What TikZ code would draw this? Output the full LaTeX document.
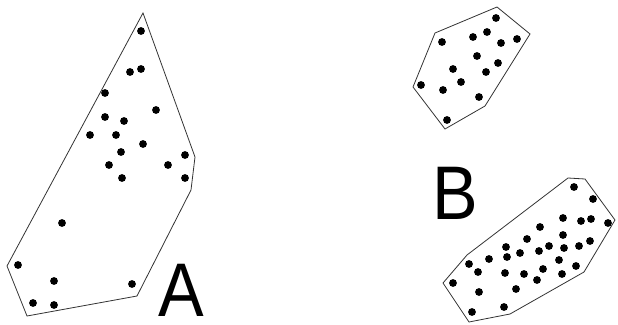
\documentclass[tikz,border=0pt]{standalone}
\usepackage{fontspec}
\setmainfont{Liberation Sans}
\usetikzlibrary{positioning}

\tikzset{
  hull/.style={draw=black!80, line width=0.8pt, line join=miter},
  pt/.style={fill=black},
  clusterlabel/.style={inner sep=0pt, xscale=0.9, font=\fontsize{76}{78}\selectfont}
}

\begin{document}
\begin{tikzpicture}[x=1pt, y=-1pt]
    \def\r{3.9}     % dot radius
    \useasboundingbox (0,0) rectangle (618,324);

    % Cluster A: hull
    \draw[hull] (143,13) -- (195,157) -- (191,190) -- (137,296) -- (27,316) -- (7,266) -- cycle;
    % Cluster A: points
    \foreach \x/\y in {141/31, 130/72, 141/69, 105/93, 156/110, 105/117, 124/121,
                       90/135, 116/135, 143/144, 121/152, 185/155, 109/165, 168/165,
                       122/178, 185/178, 62/223, 18/265, 54/281, 132/284, 33/303, 54/305}
        \fill[pt] (\x,\y) circle (\r);

    % Cluster B, upper part: hull
    \draw[hull] (435,33) -- (497,7) -- (530,34) -- (485,106) -- (445,129) -- (413,87) -- cycle;
    % Cluster B, upper part: points
    \foreach \x/\y in {496/18, 473/37, 487/32, 442/42, 501/43, 517/39, 477/56, 453/69,
                       498/63, 486/72, 461/82, 421/85, 443/90, 479/97, 447/120}
        \fill[pt] (\x,\y) circle (\r);

    % Cluster B, lower part: hull
    \draw[hull] (568,178) -- (585,179) -- (615,220) -- (584,272) -- (510,314)
                -- (469,322) -- (443,283) -- (467,255) -- cycle;
    % Cluster B, lower part: points
    \foreach \x/\y in {574/187, 593/199, 563/218, 581/221, 591/219, 608/223, 540/227,
                       563/235, 527/239, 590/241, 506/247, 549/246, 564/248, 579/246,
                       520/253, 539/251, 507/257, 489/259, 469/264, 559/260, 478/272,
                       543/269, 576/266, 505/273, 524/274, 562/274, 537/280, 453/283,
                       479/292, 516/289, 472/312, 504/307}
        \fill[pt] (\x,\y) circle (\r);

    % Labels
    \node[clusterlabel] (labelA) at (181.5,290) {A};
    \node[clusterlabel] (labelB) at (455.5,193.5) {B};
\end{tikzpicture}
\end{document}
